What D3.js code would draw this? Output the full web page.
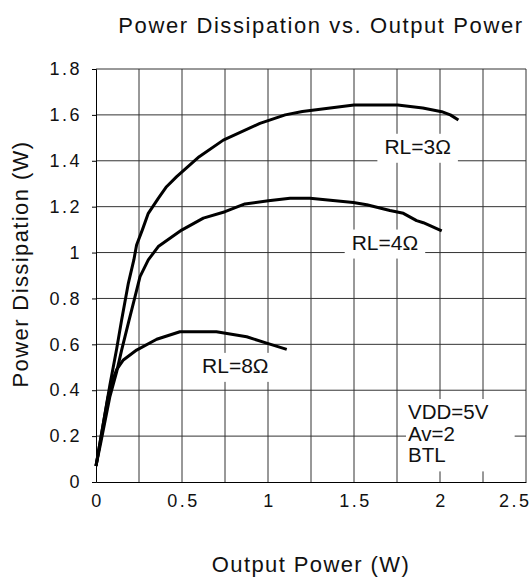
<!DOCTYPE html>
<html>
<head>
<meta charset="utf-8">
<script src="https://cdn.jsdelivr.net/npm/d3@7"></script>
<style>
  body { margin: 0; background: #fff; }
  svg { display: block; font-family: "Liberation Sans", Arial, sans-serif; }
</style>
</head>
<body>
<svg id="chart" width="530" height="579"></svg>
<script>
// tick values
const xTicks = [0, 0.5, 1, 1.5, 2, 2.5];
const yTicks = [0, 0.2, 0.4, 0.6, 0.8, 1, 1.2, 1.4, 1.6, 1.8];
const xGrid = [0.25, 0.5, 0.75, 1, 1.25, 1.5, 1.75, 2, 2.25, 2.5];
const yGrid = [0.2, 0.4, 0.6, 0.8, 1, 1.2, 1.4, 1.6, 1.8];

// curves: [output power W, dissipation W]
const rl3 = [[0, 0.07], [0.03, 0.2], [0.08, 0.42], [0.12, 0.58], [0.149, 0.706], [0.188, 0.866],
  [0.22, 0.968], [0.236, 1.033], [0.27, 1.1], [0.304, 1.171], [0.363, 1.237], [0.41, 1.287],
  [0.469, 1.331], [0.6, 1.418], [0.74, 1.49], [0.953, 1.563], [1.1, 1.6], [1.2, 1.615],
  [1.5, 1.643], [1.754, 1.643], [1.9, 1.63], [2.01, 1.614], [2.06, 1.6], [2.107, 1.578]];

const rl4 = [[0, 0.07], [0.03, 0.18], [0.08, 0.37], [0.12, 0.48], [0.149, 0.575], [0.188, 0.692],
  [0.227, 0.808], [0.256, 0.895], [0.304, 0.968], [0.362, 1.026], [0.498, 1.098], [0.624, 1.15],
  [0.75, 1.178], [0.866, 1.212], [1.002, 1.226], [1.128, 1.237], [1.244, 1.237], [1.496, 1.218],
  [1.574, 1.208], [1.709, 1.183], [1.787, 1.171], [1.864, 1.139], [1.903, 1.13], [2.01, 1.095]];

const rl8 = [[0, 0.07], [0.03, 0.2], [0.07, 0.37], [0.1, 0.45], [0.12, 0.49], [0.159, 0.532],
  [0.236, 0.575], [0.353, 0.622], [0.488, 0.655], [0.7, 0.655], [0.876, 0.633], [0.992, 0.605],
  [1.109, 0.578]];

const curveLabels = ['RL=3\u03A9', 'RL=4\u03A9', 'RL=8\u03A9'];
const noteLines = ['VDD=5V', 'Av=2', 'BTL'];

const svg = d3.select('#chart');

const x = d3.scaleLinear().domain([0, 2.5]).range([96, 526]);
const y = d3.scaleLinear().domain([0, 1.8]).range([482, 69]);

// grid
const grid = svg.append('g').attr('stroke', '#333').attr('stroke-width', 1);
grid.selectAll('.vg').data(xGrid).enter().append('line')
  .attr('x1', d => x(d)).attr('x2', d => x(d))
  .attr('y1', y(0)).attr('y2', y(1.8));
grid.selectAll('.hg').data(yGrid).enter().append('line')
  .attr('x1', x(0)).attr('x2', x(2.5))
  .attr('y1', d => y(d)).attr('y2', d => y(d));

// axes
const xAxis = d3.axisBottom(x).tickValues(xTicks).tickSize(0).tickPadding(12)
  .tickFormat(d3.format('~g'));
const gx = svg.append('g').attr('transform', `translate(0,${y(0)})`).call(xAxis);
gx.select('.domain').attr('stroke', '#000');

const yAxis = d3.axisLeft(y).tickValues(yTicks).tickSize(4).tickPadding(10)
  .tickFormat(d3.format('~g'));
const gy = svg.append('g').attr('transform', `translate(${x(0)},0)`).call(yAxis);
gy.select('.domain').attr('stroke', '#000');

svg.selectAll('.tick text')
  .attr('font-family', '"Liberation Sans", Arial, sans-serif')
  .attr('font-size', 18).attr('fill', '#111')
  .style('letter-spacing', '2.5px');
gx.selectAll('.tick text').attr('dx', '1px');
gx.selectAll('.tick').filter(d => d === 2.5).select('text')
  .attr('text-anchor', 'end').attr('x', 530 - x(2.5));

// curves
const line = d3.line().x(d => x(d[0])).y(d => y(d[1]));
svg.append('g').selectAll('path').data([rl3, rl4, rl8]).enter().append('path')
  .attr('d', line)
  .attr('fill', 'none')
  .attr('stroke', '#000')
  .attr('stroke-width', 3)
  .attr('stroke-linejoin', 'round');

// labels with white boxes (padding: left, right)
function boxedLabel(lines, px, py, size, lh, anchor, padL, padR) {
  const g = svg.append('g');
  const rect = g.append('rect').attr('fill', '#fff');
  const t = g.append('text')
    .attr('font-size', size).attr('fill', '#111')
    .attr('text-anchor', anchor);
  lines.forEach((s, i) => {
    t.append('tspan').attr('x', px).attr('y', py + i * lh).text(s);
  });
  const b = t.node().getBBox();
  rect.attr('x', b.x - padL).attr('y', b.y - 1)
    .attr('width', b.width + padL + padR).attr('height', b.height + 6);
}

boxedLabel([curveLabels[0]], x(1.87), y(1.4) - 7, 21, 0, 'middle', 7, 7);
boxedLabel([curveLabels[1]], x(1.68), y(1.0) - 3, 21, 0, 'middle', 7, 7);
boxedLabel([curveLabels[2]], x(0.81), y(0.48) + 1, 21, 0, 'middle', 7, 7);
boxedLabel(noteLines, 408, 419, 20.5, 21.7, 'start', 2, 26);

// titles
svg.append('text')
  .attr('x', 321).attr('y', 33)
  .attr('text-anchor', 'middle')
  .attr('font-size', 22).style('letter-spacing', '1.6px').attr('fill', '#111')
  .text('Power Dissipation vs. Output Power');

svg.append('text')
  .attr('x', 311).attr('y', 572)
  .attr('text-anchor', 'middle')
  .attr('font-size', 22).style('letter-spacing', '1.4px').attr('fill', '#111')
  .text('Output Power (W)');

svg.append('text')
  .attr('transform', 'translate(28,264) rotate(-90)')
  .attr('text-anchor', 'middle')
  .attr('font-size', 22).style('letter-spacing', '1.4px').attr('fill', '#111')
  .text('Power Dissipation (W)');
</script>
</body>
</html>
